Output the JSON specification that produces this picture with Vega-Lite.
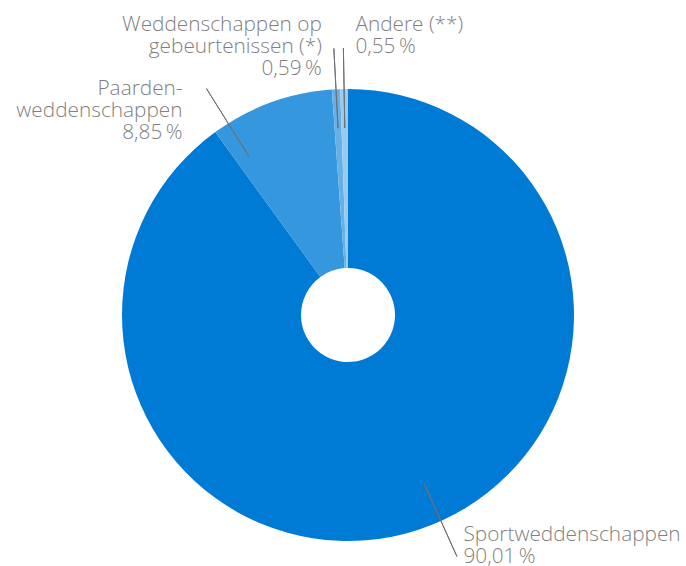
{
  "$schema": "https://vega.github.io/schema/vega-lite/v6.json",
  "width": 676,
  "height": 502,
  "autosize": {"type": "none"},
  "padding": {"left": 10, "top": 64, "right": 0, "bottom": 0},
  "background": "white",
  "config": {"view": {"stroke": null}},
  "data": {
    "values": [
      {"cat": "Sportweddenschappen", "value": 90.01, "order": 1, "label": ["Sportweddenschappen", "90,01\u2009%"]},
      {"cat": "Paardenweddenschappen", "value": 8.85, "order": 2, "label": ["Paarden-", "weddenschappen", "8,85\u2009%"]},
      {"cat": "Weddenschappen op gebeurtenissen (*)", "value": 0.59, "order": 3, "label": ["Weddenschappen op", "gebeurtenissen (*)", "0,59\u2009%"]},
      {"cat": "Andere (**)", "value": 0.55, "order": 4, "label": ["Andere (**)", "0,55\u2009%"]}
    ]
  },
  "transform": [
    {"stack": "value", "groupby": [], "sort": [{"field": "order", "order": "ascending"}], "as": ["s0", "s1"]},
    {"fold": ["s0", "s1"], "as": ["k", "v"]},
    {"joinaggregate": [{"op": "mean", "field": "v", "as": "mid"}], "groupby": ["cat"]},
    {"filter": "datum.k == 's0'"}
  ],
  "layer": [
    {
      "mark": {"type": "arc", "outerRadius": 226, "innerRadius": 47},
      "encoding": {
        "theta": {"field": "value", "type": "quantitative", "stack": true, "scale": {"domain": [0, 100]}},
        "order": {"field": "order", "type": "quantitative"},
        "color": {
          "field": "cat", "type": "nominal", "legend": null,
          "scale": {
            "domain": ["Sportweddenschappen", "Paardenweddenschappen", "Weddenschappen op gebeurtenissen (*)", "Andere (**)"],
            "range": ["#007bd5", "#3597dd", "#66b0e7", "#99caf0"]
          }
        }
      }
    },
    {
      "transform": [{"filter": "datum.order >= 3"}],
      "mark": {"type": "arc", "innerRadius": 187, "outerRadius": 267, "fill": null, "stroke": "#707070", "strokeWidth": 1},
      "encoding": {
        "theta": {"field": "mid", "type": "quantitative", "scale": {"domain": [0, 100]}},
        "theta2": {"field": "mid"}
      }
    },
    {
      "transform": [{"filter": "datum.order == 1"}],
      "mark": {"type": "arc", "innerRadius": 185, "outerRadius": 265, "fill": null, "stroke": "#707070", "strokeWidth": 1, "thetaOffset": -0.11, "theta2Offset": -0.11},
      "encoding": {
        "theta": {"field": "mid", "type": "quantitative", "scale": {"domain": [0, 100]}},
        "theta2": {"field": "mid"}
      }
    },
    {
      "transform": [{"filter": "datum.order == 2"}],
      "mark": {"type": "arc", "innerRadius": 187, "outerRadius": 267, "fill": null, "stroke": "#707070", "strokeWidth": 1, "thetaOffset": -0.209, "theta2Offset": -0.209},
      "encoding": {
        "theta": {"field": "mid", "type": "quantitative", "scale": {"domain": [0, 100]}},
        "theta2": {"field": "mid"}
      }
    },
    {
      "transform": [{"filter": "datum.order == 1"}],
      "mark": {"type": "text", "radius": 267, "align": "left", "baseline": "alphabetic", "dx": 33, "dy": -28, "font": "Open Sans", "fontSize": 20.8, "fontWeight": 300, "lineHeight": 22, "color": "#7f7f7f"},
      "encoding": {
        "theta": {"field": "mid", "type": "quantitative", "scale": {"domain": [0, 100]}},
        "text": {"field": "label"}
      }
    },
    {
      "transform": [{"filter": "datum.order == 2"}],
      "mark": {"type": "text", "radius": 267, "align": "right", "baseline": "alphabetic", "dx": -74, "dy": 31, "font": "Open Sans", "fontSize": 20.8, "fontWeight": 300, "lineHeight": 22, "color": "#7f7f7f"},
      "encoding": {
        "theta": {"field": "mid", "type": "quantitative", "scale": {"domain": [0, 100]}},
        "text": {"field": "label"}
      }
    },
    {
      "transform": [{"filter": "datum.order == 3"}],
      "mark": {"type": "text", "radius": 267, "align": "right", "baseline": "alphabetic", "dx": -12, "dy": -17, "font": "Open Sans", "fontSize": 20.8, "fontWeight": 300, "lineHeight": 22, "color": "#7f7f7f"},
      "encoding": {
        "theta": {"field": "mid", "type": "quantitative", "scale": {"domain": [0, 100]}},
        "text": {"field": "label"}
      }
    },
    {
      "transform": [{"filter": "datum.order == 4"}],
      "mark": {"type": "text", "radius": 267, "align": "left", "baseline": "alphabetic", "dx": 12, "dy": -17, "font": "Open Sans", "fontSize": 20.8, "fontWeight": 300, "lineHeight": 22, "color": "#7f7f7f"},
      "encoding": {
        "theta": {"field": "mid", "type": "quantitative", "scale": {"domain": [0, 100]}},
        "text": {"field": "label"}
      }
    }
  ]
}
